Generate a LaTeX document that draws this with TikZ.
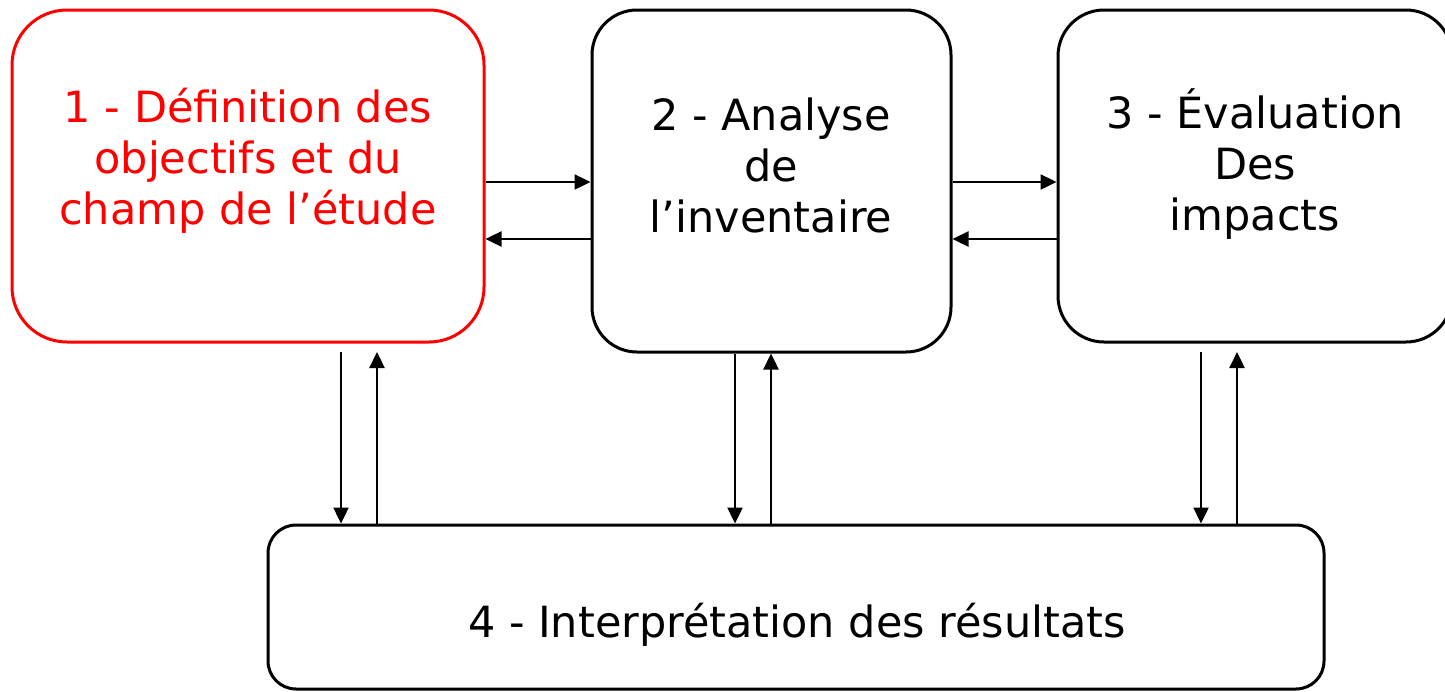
\documentclass[tikz,border=0pt]{standalone}
\usepackage{fontspec}
\setmainfont{DejaVu Sans}
\usetikzlibrary{arrows.meta}
\definecolor{boxred}{RGB}{255,0,0}
\tikzset{
  box/.style={draw=black, line width=1.5pt, rectangle, inner sep=0pt, fill=white},
  lbl/.style={align=center, inner sep=0pt, font=\fontsize{21.5}{25.5}\selectfont, anchor=base},
  arr/.style={line width=1.2pt, -{Triangle[length=8pt,width=7.5pt]}}
}
\begin{document}
\begin{tikzpicture}[x=0.5pt,y=-0.5pt]
\useasboundingbox (0,0) rectangle (1445,691);
% boxes
\node[box, draw=boxred, rounded corners=27.5pt, minimum width=236pt, minimum height=166pt] (b1) at (248,176) {};
\node[box, rounded corners=22.5pt, minimum width=179.5pt, minimum height=171pt] (b2) at (771.5,181) {};
\node[box, rounded corners=23pt, minimum width=197pt, minimum height=166pt] (b3) at (1255,176) {};
\node[box, rounded corners=14pt, minimum width=528pt, minimum height=82pt] (b4) at (796,607) {};
% labels (anchor = baseline of last line)
\node[lbl, text=boxred] (t1) at (248,224) {1 - Définition des\\objectifs et du\\champ de l’étude};
\node[lbl] (t2) at (771,232) {2 - Analyse\\de\\l’inventaire};
\node[lbl] (t3) at (1255,230) {3 - Évaluation\\Des \\impacts};
\node[lbl] (t4) at (797,637) {4 - Interprétation des résultats};
% helper coordinates
\coordinate (yA) at (0,182);
\coordinate (yB) at (0,239);
\coordinate (d1) at (341,352);
\coordinate (u1) at (377,352);
\coordinate (d2) at (735,352);
\coordinate (u2) at (771,352);
\coordinate (d3) at (1201,352);
\coordinate (u3) at (1237,352);
% horizontal connectors
\draw[arr] (b1.east |- yA) -- (b2.west |- yA);
\draw[arr] (b2.west |- yB) -- (b1.east |- yB);
\draw[arr] (b2.east |- yA) -- (b3.west |- yA);
\draw[arr] (b3.west |- yB) -- (b2.east |- yB);
% vertical connectors
\draw[arr] (d1) -- (d1 |- b4.north);
\draw[arr] (u1 |- b4.north) -- (u1);
\draw[arr] (d2 |- b2.south) -- (d2 |- b4.north);
\draw[arr] (u2 |- b4.north) -- (u2 |- b2.south);
\draw[arr] (d3) -- (d3 |- b4.north);
\draw[arr] (u3 |- b4.north) -- (u3);
\end{tikzpicture}
\end{document}
